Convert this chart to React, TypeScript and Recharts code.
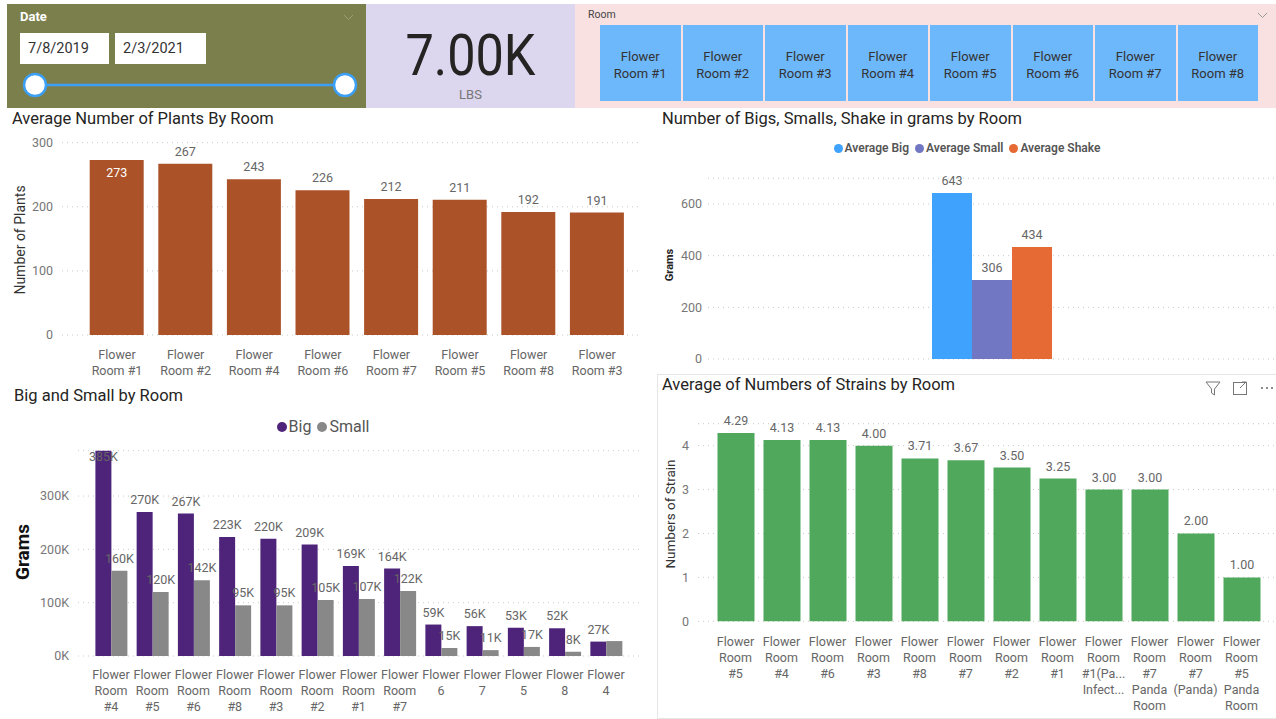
import React from 'react';
import { BarChart, Bar, XAxis, YAxis, CartesianGrid, LabelList } from 'recharts';

const FONT = 'Roboto, "Open Sans", "DejaVu Sans", sans-serif';

// ---------- data ----------
const dateStart = '7/8/2019';
const dateEnd = '2/3/2021';
const kpiValue = '7.00K';
const kpiUnit = 'LBS';
const slicerRooms = ['Flower Room #1', 'Flower Room #2', 'Flower Room #3', 'Flower Room #4', 'Flower Room #5', 'Flower Room #6', 'Flower Room #7', 'Flower Room #8'];

const plantRooms = ['Flower Room #1', 'Flower Room #2', 'Flower Room #4', 'Flower Room #6', 'Flower Room #7', 'Flower Room #5', 'Flower Room #8', 'Flower Room #3'];
const plantValues = [273, 267, 243, 226, 212, 211, 192, 191];
const plantTicks = [0, 100, 200, 300];

const gramSeries = ['Average Big', 'Average Small', 'Average Shake'];
const gramValues = [643, 306, 434];
const gramTicks = [0, 200, 400, 600];

const bsRooms = ['Flower Room #4', 'Flower Room #5', 'Flower Room #6', 'Flower Room #8', 'Flower Room #3', 'Flower Room #2', 'Flower Room #1', 'Flower Room #7', 'Flower 6', 'Flower 7', 'Flower 5', 'Flower 8', 'Flower 4'];
const bigValues = [385000, 270000, 267000, 223000, 220000, 209000, 169000, 164000, 59000, 56000, 53000, 52000, 27000];
const smallValues = [160000, 120000, 142000, 95000, 95000, 105000, 107000, 122000, 15000, 11000, 17000, 8000, 28000];
const smallLabelShown = [true, true, true, true, true, true, true, true, true, true, true, true, false];
const bsTicks = [0, 100000, 200000, 300000];

const strainRooms = ['Flower Room #5', 'Flower Room #4', 'Flower Room #6', 'Flower Room #3', 'Flower Room #8', 'Flower Room #7', 'Flower Room #2', 'Flower Room #1', 'Flower Room #1(Pa... Infect...', 'Flower Room #7 Panda Room', 'Flower Room #7 (Panda)', 'Flower Room #5 Panda Room'];
const strainValues = [4.29, 4.13, 4.13, 4.0, 3.71, 3.67, 3.5, 3.25, 3.0, 3.0, 2.0, 1.0];
const strainTicks = [0, 1, 2, 3, 4];

// ---------- colours ----------
const C_PLANT = '#ab5229';
const C_GRAM = ['#3fa2fd', '#7277c4', '#e56a34'];
const C_BIG = '#4d2479';
const C_SMALL = '#888888';
const C_STRAIN = '#50a85c';
const TICK = '#777777';
const LAB = '#666666';

const plantData = plantRooms.map((r, i) => ({ room: r, value: plantValues[i] }));
const gramData = [{ room: 'All', big: gramValues[0], small: gramValues[1], shake: gramValues[2] }];
const bsData = bsRooms.map((r, i) => ({ room: r, big: bigValues[i], small: smallValues[i] }));
const strainData = strainRooms.map((r, i) => ({ room: r, value: strainValues[i] }));

const gridProps = { vertical: false, stroke: '#c9c9c9', strokeDasharray: '1 4' } as const;
const yTick = { fill: TICK, fontSize: 12.5, fontFamily: FONT };

const makeTick = (split: (s: string) => string[], first: number) => (props: any) => {
  const { x, y, payload } = props;
  const lines = split(String(payload.value));
  return (
    <g>
      {lines.map((l, k) => (
        <text key={k} x={x} y={y + first + k * 16} textAnchor="middle" fill={LAB} fontSize={12.5} fontFamily={FONT}>
          {l}
        </text>
      ))}
    </g>
  );
};
const splitFirst = (s: string) => {
  const i = s.indexOf(' ');
  return [s.slice(0, i), s.slice(i + 1)];
};
const splitAll = (s: string) => s.split(' ');

const num = (v: any) => Number(v);

const Title = ({ x, y, text }: { x: number; y: number; text: string }) => (
  <div style={{ position: 'absolute', left: x, top: y - 11, height: 22, lineHeight: '22px', fontSize: 16.5, color: '#252423', fontFamily: FONT, whiteSpace: 'nowrap' }}>{text}</div>
);

const Dot = ({ color, size }: { color: string; size: number }) => (
  <span style={{ display: 'inline-block', width: size, height: size, borderRadius: '50%', background: color, marginRight: 2 }} />
);

export default function App() {
  const C1 = { left: 0, top: 110, w: 640, h: 270, plotTop: 32.7 };
  const C2 = { left: 650, top: 110, w: 626, h: 260 };
  const C3 = { left: 0, top: 385, w: 640, h: 334, plotTop: 65.7 };
  const C4 = { left: 650, top: 370, w: 626, h: 349 };

  return (
    <div style={{ position: 'absolute', left: 0, top: 0, width: 1276, height: 719, background: '#ffffff', overflow: 'hidden', fontFamily: FONT }}>
      {/* ---------- top band ---------- */}
      <div style={{ position: 'absolute', left: 7, top: 4, width: 359, height: 104, background: '#7b7f4c' }} />
      <div style={{ position: 'absolute', left: 20, top: 9, fontSize: 13, fontWeight: 700, color: '#ffffff', lineHeight: '16px' }}>Date</div>
      <div style={{ position: 'absolute', left: 20, top: 33, width: 89, height: 31, background: '#ffffff', fontSize: 14.5, color: '#333', lineHeight: '31px', paddingLeft: 8, boxSizing: 'border-box' }}>{dateStart}</div>
      <div style={{ position: 'absolute', left: 115, top: 33, width: 91, height: 31, background: '#ffffff', fontSize: 14.5, color: '#333', lineHeight: '31px', paddingLeft: 8, boxSizing: 'border-box' }}>{dateEnd}</div>

      <div style={{ position: 'absolute', left: 366, top: 4, width: 209, height: 104, background: '#ddd6ef' }} />
      <div style={{ position: 'absolute', left: 366, top: 22, width: 209, textAlign: 'center', fontSize: 58, lineHeight: '66px', color: '#252423', transform: 'scaleX(0.87)' }}>{kpiValue}</div>
      <div style={{ position: 'absolute', left: 366, top: 87, width: 209, textAlign: 'center', fontSize: 13, lineHeight: '16px', color: '#777' }}>{kpiUnit}</div>

      <div style={{ position: 'absolute', left: 575, top: 4, width: 701, height: 104, background: '#f9e1e2' }} />
      <div style={{ position: 'absolute', left: 588, top: 8, fontSize: 10.5, lineHeight: '14px', color: '#444' }}>Room</div>
      {slicerRooms.map((r, i) => (
        <div key={r} style={{ position: 'absolute', left: 600 + i * 82.5, top: 25, width: 80.5, height: 76, background: '#6db7fb', display: 'flex', flexDirection: 'column', alignItems: 'center', justifyContent: 'center', paddingTop: 3, boxSizing: 'border-box', fontSize: 13, lineHeight: '17px', color: '#333' }}>
          <span>{splitFirst(r)[0]}</span>
          <span>{splitFirst(r)[1]}</span>
        </div>
      ))}

      {/* ---------- chart 4 visual border ---------- */}
      <div style={{ position: 'absolute', left: 657, top: 374, width: 625, height: 343, border: '1px solid #e6e6e6' }} />

      {/* ---------- titles ---------- */}
      <Title x={12} y={119} text="Average Number of Plants By Room" />
      <Title x={662} y={119} text="Number of Bigs, Smalls, Shake in grams by Room" />
      <Title x={14} y={396} text="Big and Small by Room" />
      <Title x={662} y={385} text="Average of Numbers of Strains by Room" />

      {/* ---------- legends ---------- */}
      <div style={{ position: 'absolute', left: 767, top: 140, width: 400, display: 'flex', justifyContent: 'center', gap: 6, fontSize: 12, fontWeight: 600, color: '#555', lineHeight: '16px' }}>
        {gramSeries.map((s, i) => (
          <span key={s} style={{ display: 'flex', alignItems: 'center' }}>
            <Dot color={C_GRAM[i]} size={9} />
            {s}
          </span>
        ))}
      </div>
      <div style={{ position: 'absolute', left: 123, top: 417, width: 400, display: 'flex', justifyContent: 'center', gap: 6, fontSize: 16, color: '#555', lineHeight: '20px' }}>
        <span style={{ display: 'flex', alignItems: 'center' }}><Dot color={C_BIG} size={10} />Big</span>
        <span style={{ display: 'flex', alignItems: 'center' }}><Dot color={C_SMALL} size={10} />Small</span>
      </div>

      {/* ---------- chart 1 ---------- */}
      <div style={{ position: 'absolute', left: C1.left, top: C1.top }}>
        <BarChart width={C1.w} height={C1.h} data={plantData} margin={{ top: C1.plotTop, right: 0, bottom: 0, left: 0 }}>
          <CartesianGrid {...gridProps} />
          <XAxis dataKey="room" axisLine={false} tickLine={false} tickSize={0} tickMargin={0} height={45} interval={0} padding={{ left: 20.7, right: 8.5 }} tick={makeTick(splitFirst, 24)} />
          <YAxis width={62} domain={[0, 300]} ticks={plantTicks} axisLine={false} tickLine={false} tickSize={0} tickMargin={9} tick={yTick} />
          <Bar dataKey="value" fill={C_PLANT} barSize={54} isAnimationActive={false}>
            <LabelList
              dataKey="value"
              content={(p: any) => {
                const x = num(p.x), y = num(p.y), w = num(p.width);
                const inside = y - 18 < C1.plotTop;
                return (
                  <text x={x + w / 2} y={inside ? y + 17 : y - 8} textAnchor="middle" fill={inside ? '#ffffff' : LAB} fontSize={12.5} fontFamily={FONT}>
                    {p.value}
                  </text>
                );
              }}
            />
          </Bar>
        </BarChart>
      </div>

      {/* ---------- chart 2 ---------- */}
      <div style={{ position: 'absolute', left: C2.left, top: C2.top }}>
        <BarChart width={C2.w} height={C2.h} data={gramData} margin={{ top: 68.2, right: 0, bottom: 11, left: 0 }} barGap={0}>
          <CartesianGrid {...gridProps} />
          <XAxis dataKey="room" hide />
          <YAxis width={58} domain={[0, 700]} ticks={gramTicks} axisLine={false} tickLine={false} tickSize={0} tickMargin={6} tick={yTick} />
          {(['big', 'small', 'shake'] as const).map((k, i) => (
            <Bar key={k} dataKey={k} name={gramSeries[i]} fill={C_GRAM[i]} barSize={40} isAnimationActive={false}>
              <LabelList
                dataKey={k}
                content={(p: any) => (
                  <text x={num(p.x) + num(p.width) / 2} y={num(p.y) - 8} textAnchor="middle" fill={LAB} fontSize={12.5} fontFamily={FONT}>
                    {p.value}
                  </text>
                )}
              />
            </Bar>
          ))}
        </BarChart>
      </div>

      {/* ---------- chart 3 ---------- */}
      <div style={{ position: 'absolute', left: C3.left, top: C3.top }}>
        <BarChart width={C3.w} height={C3.h} data={bsData} margin={{ top: C3.plotTop, right: 0, bottom: 0, left: 0 }} barGap={0}>
          <CartesianGrid {...gridProps} />
          <XAxis dataKey="room" axisLine={false} tickLine={false} tickSize={0} tickMargin={0} height={63} interval={0} padding={{ left: 12.4, right: 13.4 }} tick={makeTick(splitAll, 23)} />
          <YAxis width={78} domain={[0, 385000]} ticks={bsTicks} axisLine={false} tickLine={false} tickSize={0} tickMargin={9} tick={yTick} tickFormatter={(v: number) => `${Math.round(v / 1000)}K`} />
          {(['big', 'small'] as const).map((k) => (
            <Bar key={k} dataKey={k} name={k === 'big' ? 'Big' : 'Small'} fill={k === 'big' ? C_BIG : C_SMALL} barSize={16} isAnimationActive={false}>
              <LabelList
                dataKey={k}
                content={(p: any) => {
                  if (k === 'small' && !smallLabelShown[p.index]) return null;
                  const x = num(p.x), y = num(p.y), w = num(p.width);
                  const inside = y - 18 < C3.plotTop;
                  return (
                    <text x={x + w / 2} y={inside ? y + 10 : y - 8} textAnchor="middle" fill={LAB} fontSize={12.5} fontFamily={FONT}>
                      {`${Math.round(num(p.value) / 1000)}K`}
                    </text>
                  );
                }}
              />
            </Bar>
          ))}
        </BarChart>
      </div>

      {/* ---------- chart 4 ---------- */}
      <div style={{ position: 'absolute', left: C4.left, top: C4.top }}>
        <BarChart width={C4.w} height={C4.h} data={strainData} margin={{ top: 53.7, right: 0, bottom: 0, left: 0 }}>
          <CartesianGrid {...gridProps} />
          <XAxis dataKey="room" axisLine={false} tickLine={false} tickSize={0} tickMargin={0} height={97.7} interval={0} padding={{ left: 14.5, right: 11.5 }} tick={makeTick(splitAll, 24.7)} />
          <YAxis width={48} domain={[0, 4.5]} ticks={strainTicks} axisLine={false} tickLine={false} tickSize={0} tickMargin={9} tick={yTick} />
          <Bar dataKey="value" fill={C_STRAIN} barSize={37} isAnimationActive={false}>
            <LabelList
              dataKey="value"
              content={(p: any) => (
                <text x={num(p.x) + num(p.width) / 2} y={num(p.y) - 8} textAnchor="middle" fill={LAB} fontSize={12.5} fontFamily={FONT}>
                  {num(p.value).toFixed(2)}
                </text>
              )}
            />
          </Bar>
        </BarChart>
      </div>

      {/* ---------- overlay: slider, axis titles, icons ---------- */}
      <svg width={1276} height={719} style={{ position: 'absolute', left: 0, top: 0, pointerEvents: 'none' }}>
        <polyline points="344,15 348.5,19.5 353,15" fill="none" stroke="#9a9d78" strokeWidth={1} />
        <polyline points="1258,13 1262.5,17.5 1267,13" fill="none" stroke="#999" strokeWidth={1} />
        <line x1={35} y1={85} x2={345} y2={85} stroke="#3b9ff5" strokeWidth={2.5} />
        <circle cx={35} cy={85} r={11} fill="#ffffff" stroke="#3b9ff5" strokeWidth={2.5} />
        <circle cx={345} cy={85} r={11} fill="#ffffff" stroke="#3b9ff5" strokeWidth={2.5} />

        <text transform="translate(20,240) rotate(-90)" textAnchor="middle" dominantBaseline="central" fontSize={14} fill="#333" fontFamily={FONT}>Number of Plants</text>
        <text transform="translate(669,265) rotate(-90)" textAnchor="middle" dominantBaseline="central" fontSize={11} fontWeight={700} fill="#222" fontFamily={FONT}>Grams</text>
        <text transform="translate(22,552) rotate(-90)" textAnchor="middle" dominantBaseline="central" fontSize={19} fontWeight={700} fill="#111" fontFamily={FONT}>Grams</text>
        <text transform="translate(670,514) rotate(-90)" textAnchor="middle" dominantBaseline="central" fontSize={13.5} fill="#333" fontFamily={FONT}>Numbers of Strain</text>

        <path d="M1206,382 L1220,382 L1214.5,389 L1214.5,395 L1211.5,393 L1211.5,389 Z" fill="none" stroke="#777" strokeWidth={1} />
        <rect x={1233.5} y={382.5} width={13} height={12} fill="none" stroke="#777" strokeWidth={1} />
        <path d="M1240,388 L1246,382 M1242,382 L1246.5,382 L1246.5,386.5" fill="none" stroke="#777" strokeWidth={1} />
        <circle cx={1262} cy={388} r={1} fill="#666" />
        <circle cx={1267} cy={388} r={1} fill="#666" />
        <circle cx={1272} cy={388} r={1} fill="#666" />
      </svg>
    </div>
  );
}
